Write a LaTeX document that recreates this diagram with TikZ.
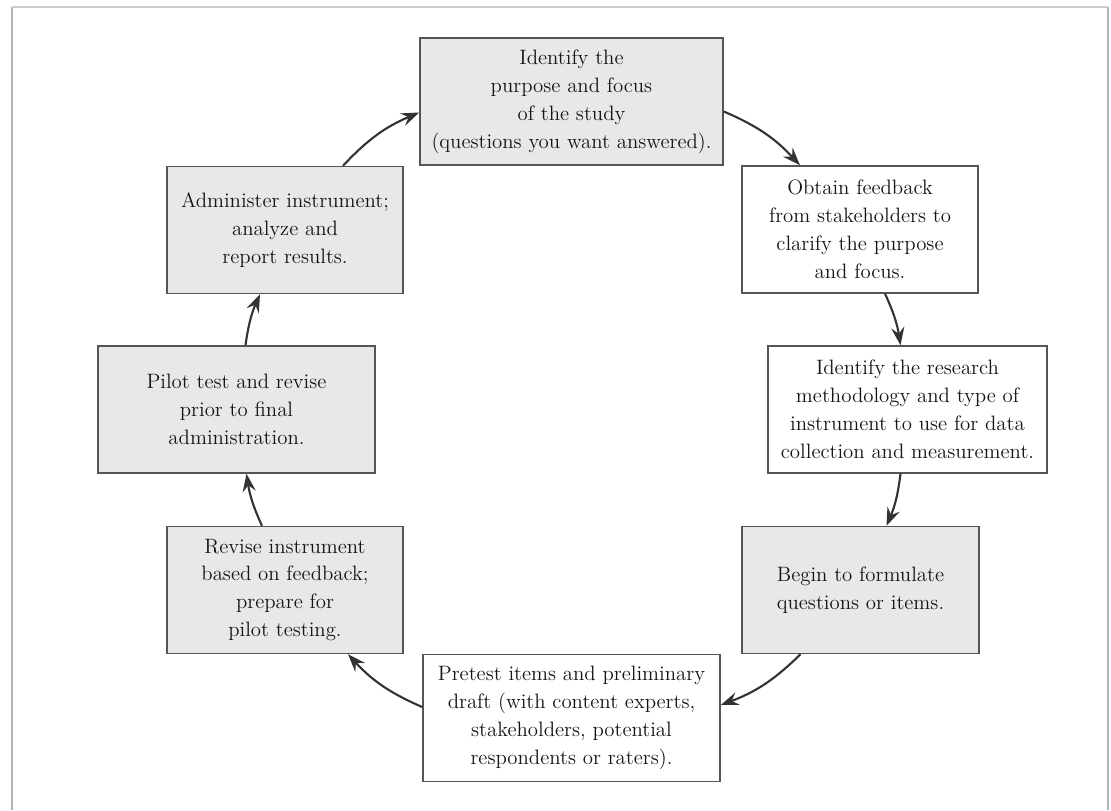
\documentclass[tikz,border=0pt]{standalone}
\usetikzlibrary{arrows.meta,positioning,calc}
\definecolor{fg}{HTML}{151515}
\definecolor{boxgray}{HTML}{E8E8E8}
\definecolor{edge}{HTML}{555555}
\tikzstyle{box}=[draw=edge, line width=1pt, inner sep=2pt, minimum height=3.175cm,
align=center, text=fg, font=\fontsize{14.8}{19.9}\selectfont]
\tikzstyle{greybox}=[box, fill=boxgray]
\tikzstyle{openbox}=[box, fill=white]
\tikzstyle{myarrow}=[-{Stealth[length=4.5mm,width=3.3mm,inset=1.6mm]}, line width=1.5pt, draw=black!80]

\begin{document}
\begin{tikzpicture}[x=0.025cm, y=-0.025cm]
    \useasboundingbox (0,0) rectangle (1111,810);
    % page frame
    \draw[gray!60, line width=0.8pt] (12,810) -- (12,7);
    \draw[gray!40, line width=0.8pt] (12,7) -- (1108,7);
    \draw[gray!60, line width=0.8pt] (1108,7) -- (1108,810);

    \node[greybox, minimum width=7.575cm] (purpose) at (571.5,101.5)
        {Identify the\\purpose and focus\\of the study\\(questions you want answered).};
    \node[openbox, minimum width=5.9cm] (feedback) at (860,229.5)
        {Obtain feedback\\from stakeholders to\\clarify the purpose\\and focus.};
    \node[openbox, minimum width=6.975cm] (method) at (907.5,409.5)
        {Identify the research\\methodology and type of\\instrument to use for data\\collection and measurement.};
    \node[greybox, minimum width=5.925cm] (formulate) at (860.5,590)
        {Begin to formulate\\questions or items.};
    \node[openbox, minimum width=7.425cm] (pretest) at (571.5,718)
        {Pretest items and preliminary\\draft (with content experts,\\stakeholders, potential\\respondents or raters).};
    \node[greybox, minimum width=5.9cm] (revise) at (285,590)
        {Revise instrument\\based on feedback;\\prepare for\\pilot testing.};
    \node[greybox, minimum width=6.925cm] (pilot) at (236.5,409.5)
        {Pilot test and revise\\prior to final\\administration.};
    \node[greybox, minimum width=5.9cm] (administer) at (285,230)
        {Administer instrument;\\analyze and\\report results.};

    % cycle
    \draw[myarrow] ($(purpose.east)+(0,10)$) to[bend left=12] ($(feedback.north)+(-60,0)$);
    \draw[myarrow] ($(feedback.south)+(25,0)$) to[bend left=8] ($(method.north)+(-7,0)$);
    \draw[myarrow] ($(method.south)+(-7,0)$) to[bend left=8] ($(formulate.north)+(26,0)$);
    \draw[myarrow] ($(formulate.south)+(-60,0)$) to[bend left=12] ($(pretest.east)+(0,-13)$);
    \draw[myarrow] ($(pretest.west)+(0,-11)$) to[bend left=12] ($(revise.south)+(63,0)$);
    \draw[myarrow] ($(revise.north)+(-23,0)$) to[bend left=8] ($(pilot.south)+(10,0)$);
    \draw[myarrow] ($(pilot.north)+(9,0)$) to[bend left=8] ($(administer.south)+(-25,0)$);
    \draw[myarrow] ($(administer.north)+(58,0)$) to[bend left=12] ($(purpose.west)+(0,11)$);
\end{tikzpicture}
\end{document}
